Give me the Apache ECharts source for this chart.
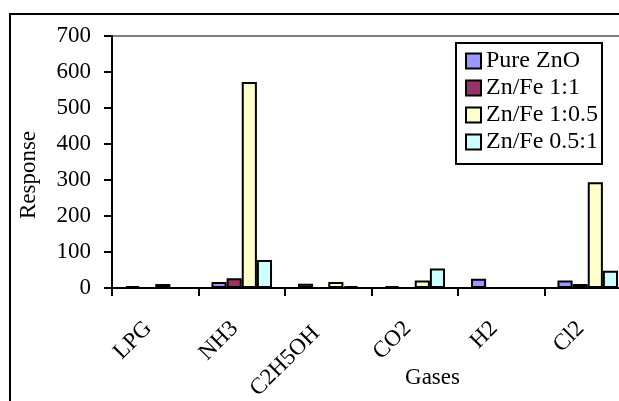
<!DOCTYPE html>
<html>
<head>
<meta charset="utf-8">
<script src="https://cdn.jsdelivr.net/npm/echarts@6/dist/echarts.min.js"></script>
<style>
  html, body { margin: 0; padding: 0; background: #fff; }
  #chart { width: 619px; height: 401px; }
</style>
</head>
<body>
<div id="chart"></div>
<script>
// Gas sensor response per test gas, for four material compositions
const gases = ['LPG', 'NH3', 'C2H5OH', 'CO2', 'H2', 'Cl2'];
const pureZnO  = [5, 17, 12, 5, 26, 21];
const znFe1_1  = [null, 27, null, null, null, 11];
const znFe1_05 = [11, 572, 17, 21, null, 294];
const znFe05_1 = [null, 78, 5, 54, null, 48];

const seriesNames = ['Pure ZnO', 'Zn/Fe 1:1', 'Zn/Fe 1:0.5', 'Zn/Fe 0.5:1'];
const seriesValues = [pureZnO, znFe1_1, znFe1_05, znFe05_1];
const seriesColors = ['#9999FF', '#993366', '#FFFFCC', '#CCFFFF'];

const yMin = 0, yMax = 700, yStep = 100;

const FONT = "'Liberation Serif', 'Times New Roman', serif";

// Rotated category labels: nudge left of the tick centre; the long one sits a little lower
const categoryData = gases.map(g => ({
  value: g,
  textStyle: { padding: g === 'C2H5OH' ? [0, 17, 6, 0] : [0, 10, 20, 0] }
}));

const chart = echarts.init(document.getElementById('chart'), null, { renderer: 'canvas' });

chart.setOption({
  backgroundColor: '#fff',
  animation: false,
  textStyle: { fontFamily: FONT, color: '#000' },
  graphic: [{
    type: 'rect',
    z: 100,
    silent: true,
    shape: { x: 10, y: 14, width: 700, height: 500 },
    style: { fill: 'none', stroke: '#000', lineWidth: 2 }
  }],
  grid: {
    left: 112, top: 36, right: -12, bottom: 113,
    containLabel: false,
    outerBoundsMode: 'none',
    show: true, borderColor: '#808080', borderWidth: 2,
    backgroundColor: 'transparent'
  },
  legend: {
    orient: 'vertical',
    left: 456, top: 43,
    padding: [6, 4, 10, 9],
    itemWidth: 15, itemHeight: 15, itemGap: 3,
    icon: 'rect',
    backgroundColor: '#fff',
    borderColor: '#000', borderWidth: 2,
    textStyle: { fontFamily: FONT, fontSize: 24, lineHeight: 24, color: '#000' },
    data: seriesNames
  },
  xAxis: {
    type: 'category',
    data: categoryData,
    name: 'Gases',
    nameLocation: 'middle',
    nameGap: 78,
    nameMoveOverlap: false,
    nameTextStyle: { fontFamily: FONT, fontSize: 23, color: '#000', padding: [0, 0, 0, 122] },
    axisLine: { lineStyle: { color: '#000', width: 2 } },
    axisTick: { show: true, length: 8, lineStyle: { color: '#000', width: 2 } },
    axisLabel: { interval: 0, rotate: 45, margin: 30, fontFamily: FONT, fontSize: 23, color: '#000' },
    splitLine: { show: false }
  },
  yAxis: {
    type: 'value',
    min: yMin, max: yMax, interval: yStep,
    name: 'Response',
    nameLocation: 'middle',
    nameGap: 72,
    nameRotate: 90,
    nameMoveOverlap: false,
    nameTextStyle: { fontFamily: FONT, fontSize: 23, color: '#000', padding: [0, 26, 0, 0] },
    axisLine: { show: true, lineStyle: { color: '#000', width: 2 } },
    axisTick: { show: true, length: 8, lineStyle: { color: '#000', width: 2 } },
    axisLabel: { margin: 21, fontFamily: FONT, fontSize: 23, color: '#000' },
    splitLine: { show: false }
  },
  series: seriesNames.map((name, i) => ({
    name: name,
    type: 'bar',
    data: seriesValues[i],
    barGap: '0%',
    barCategoryGap: '30%',
    itemStyle: { color: seriesColors[i], borderColor: '#000', borderWidth: 2 }
  }))
});
</script>
</body>
</html>
